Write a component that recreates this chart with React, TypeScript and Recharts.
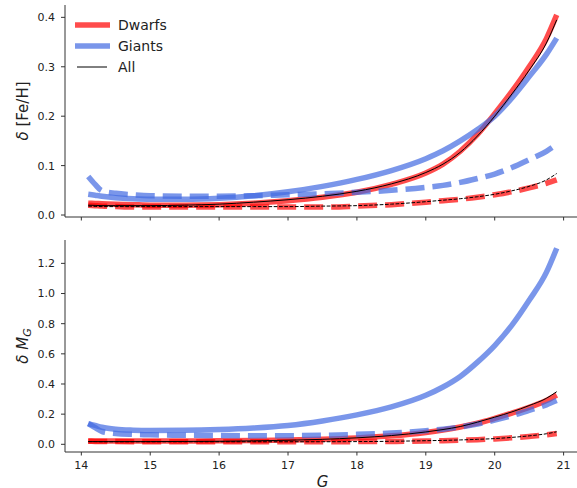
import React from 'react';
import { LineChart, Line, XAxis, YAxis, Legend } from 'recharts';

// Magnitude grid (G)
const G = [14.1, 14.2, 14.3, 14.5, 14.75, 15, 15.5, 16, 16.5, 17, 17.5, 18, 18.5, 19, 19.25, 19.5, 19.75, 20, 20.25, 20.5, 20.75, 20.9];

// Top panel: delta [Fe/H]
const dwarfsFeH = [0.024, 0.0235, 0.023, 0.022, 0.021, 0.02, 0.02, 0.021, 0.024, 0.029, 0.036, 0.046, 0.062, 0.085, 0.103, 0.129, 0.163, 0.205, 0.25, 0.3, 0.357, 0.405];
const dwarfsFeHDash = [0.02, 0.019, 0.018, 0.017, 0.016, 0.016, 0.016, 0.016, 0.016, 0.016, 0.016, 0.018, 0.021, 0.026, 0.029, 0.032, 0.036, 0.041, 0.047, 0.055, 0.064, 0.071];
const giantsFeH = [0.042, 0.04, 0.038, 0.035, 0.033, 0.032, 0.032, 0.034, 0.039, 0.047, 0.058, 0.072, 0.09, 0.114, 0.13, 0.15, 0.173, 0.2, 0.237, 0.28, 0.325, 0.358];
const giantsFeHDash = [0.078, 0.062, 0.049, 0.044, 0.041, 0.039, 0.038, 0.038, 0.039, 0.041, 0.043, 0.046, 0.05, 0.056, 0.06, 0.066, 0.074, 0.083, 0.096, 0.112, 0.129, 0.143];
const allFeH = [0.02, 0.0195, 0.019, 0.019, 0.019, 0.019, 0.02, 0.022, 0.026, 0.031, 0.038, 0.048, 0.063, 0.086, 0.103, 0.127, 0.16, 0.2, 0.245, 0.293, 0.348, 0.395];
const allFeHDash = [0.018, 0.0175, 0.017, 0.017, 0.017, 0.017, 0.017, 0.017, 0.017, 0.017, 0.018, 0.019, 0.022, 0.027, 0.03, 0.033, 0.037, 0.042, 0.049, 0.058, 0.071, 0.084];

// Bottom panel: delta M_G
const dwarfsMG = [0.022, 0.022, 0.022, 0.022, 0.022, 0.022, 0.022, 0.023, 0.025, 0.028, 0.033, 0.042, 0.056, 0.079, 0.095, 0.115, 0.14, 0.172, 0.207, 0.245, 0.29, 0.327];
const dwarfsMGDash = [0.02, 0.019, 0.018, 0.018, 0.017, 0.017, 0.017, 0.017, 0.017, 0.017, 0.017, 0.018, 0.019, 0.022, 0.024, 0.027, 0.031, 0.036, 0.043, 0.052, 0.063, 0.072];
const giantsMG = [0.137, 0.125, 0.113, 0.1, 0.094, 0.092, 0.093, 0.098, 0.108, 0.125, 0.155, 0.195, 0.248, 0.325, 0.38, 0.45, 0.545, 0.655, 0.79, 0.955, 1.14, 1.3];
const giantsMGDash = [0.137, 0.11, 0.085, 0.072, 0.066, 0.063, 0.06, 0.058, 0.057, 0.057, 0.06, 0.066, 0.075, 0.09, 0.1, 0.115, 0.135, 0.16, 0.19, 0.225, 0.262, 0.29];
const allMG = [0.018, 0.018, 0.018, 0.018, 0.018, 0.018, 0.019, 0.02, 0.023, 0.027, 0.033, 0.043, 0.058, 0.082, 0.098, 0.118, 0.147, 0.18, 0.215, 0.257, 0.305, 0.349];
const allMGDash = [0.018, 0.018, 0.017, 0.017, 0.017, 0.017, 0.017, 0.017, 0.017, 0.017, 0.017, 0.018, 0.02, 0.024, 0.026, 0.029, 0.033, 0.038, 0.046, 0.056, 0.07, 0.083];

// Ticks
const X_TICKS = [14, 15, 16, 17, 18, 19, 20, 21];
const FEH_TICKS = [0, 0.1, 0.2, 0.3, 0.4];
const MG_TICKS = [0, 0.2, 0.4, 0.6, 0.8, 1.0, 1.2];
const LEGEND_LABELS = ['Dwarfs', 'Giants', 'All'];

const X_DOMAIN: [number, number] = [13.763, 21.238];
const FEH_DOMAIN: [number, number] = [-0.004, 0.425];
const MG_DOMAIN: [number, number] = [-0.051, 1.355];

const FONT = '"DejaVu Sans", sans-serif';
const RED = '#ff0000';
const BLUE = '#4169e1';
const AXIS = '#333333';
const LW = 5.5;
const OP = 0.7;

const buildRows = (a: number[], b: number[], c: number[], d: number[], e: number[], f: number[]) =>
  G.map((g, i) => ({ g, dS: a[i], dD: b[i], gS: c[i], gD: d[i], aS: e[i], aD: f[i] }));

const topRows = buildRows(dwarfsFeH, dwarfsFeHDash, giantsFeH, giantsFeHDash, allFeH, allFeHDash);
const bottomRows = buildRows(dwarfsMG, dwarfsMGDash, giantsMG, giantsMGDash, allMG, allMGDash);

const renderLines = () => [
  <Line key="dS" dataKey="dS" type="monotone" stroke={RED} strokeOpacity={OP} strokeWidth={LW} dot={false} activeDot={false} isAnimationActive={false} />,
  <Line key="dD" dataKey="dD" type="monotone" stroke={RED} strokeOpacity={OP} strokeWidth={LW} strokeDasharray="19 8" dot={false} activeDot={false} isAnimationActive={false} />,
  <Line key="gS" dataKey="gS" type="monotone" stroke={BLUE} strokeOpacity={OP} strokeWidth={LW} dot={false} activeDot={false} isAnimationActive={false} />,
  <Line key="gD" dataKey="gD" type="monotone" stroke={BLUE} strokeOpacity={OP} strokeWidth={LW} strokeDasharray="19 8" dot={false} activeDot={false} isAnimationActive={false} />,
  <Line key="aS" dataKey="aS" type="monotone" stroke="#000" strokeWidth={1} dot={false} activeDot={false} isAnimationActive={false} />,
  <Line key="aD" dataKey="aD" type="monotone" stroke="#000" strokeWidth={1} strokeDasharray="3.7 1.6" dot={false} activeDot={false} isAnimationActive={false} />,
];

const tickStyle = { fill: '#222', fontSize: 11, fontFamily: FONT };

const renderLegend = () => (
  <svg width={130} height={66} style={{ display: 'block' }}>
    <line x1={5} x2={40} y1={13} y2={13} stroke={RED} strokeOpacity={OP} strokeWidth={LW} />
    <line x1={5} x2={40} y1={34} y2={34} stroke={BLUE} strokeOpacity={OP} strokeWidth={LW} />
    <line x1={7} x2={37} y1={55} y2={55} stroke="#000" strokeWidth={1} />
    <text x={48} y={18} fontSize={14} fontFamily={FONT} fill="#222">{LEGEND_LABELS[0]}</text>
    <text x={48} y={39} fontSize={14} fontFamily={FONT} fill="#222">{LEGEND_LABELS[1]}</text>
    <text x={48} y={60} fontSize={14} fontFamily={FONT} fill="#222">{LEGEND_LABELS[2]}</text>
  </svg>
);

const topYLabel = () => (
  <text transform="translate(28,111) rotate(-90)" textAnchor="middle" fontSize={15} fontFamily={FONT} fill="#222">
    <tspan fontStyle="italic">δ</tspan>
    <tspan> [Fe/H]</tspan>
  </text>
);

const bottomYLabel = () => (
  <text transform="translate(28,111) rotate(-90)" textAnchor="middle" fontSize={15} fontFamily={FONT} fill="#222">
    <tspan fontStyle="italic">δ M</tspan>
    <tspan fontStyle="italic" fontSize={11} dy={3}>G</tspan>
  </text>
);

const xLabel = () => (
  <text x={322.5} y={251.5} textAnchor="middle" fontSize={15} fontStyle="italic" fontFamily={FONT} fill="#222">
    G
  </text>
);

const fmt = (v: number) => v.toFixed(1);

export default function App() {
  return (
    <div style={{ position: 'absolute', left: 0, top: 0, width: 577, height: 488, overflow: 'hidden', background: '#fff' }}>
      <div style={{ position: 'absolute', left: 0, top: 0 }}>
        <LineChart width={600} height={230} data={topRows} margin={{ top: 5, right: 20, bottom: 0, left: 15 }}>
          <XAxis
            dataKey="g"
            type="number"
            domain={X_DOMAIN}
            allowDataOverflow
            ticks={X_TICKS}
            interval={0}
            height={13}
            tickSize={3.5}
            tickFormatter={() => ''}
            axisLine={{ stroke: AXIS, strokeWidth: 1 }}
            tickLine={{ stroke: AXIS }}
            tick={tickStyle}
          />
          <XAxis
            xAxisId="top"
            orientation="top"
            type="number"
            domain={X_DOMAIN}
            allowDataOverflow
            height={0}
            tick={false}
            tickLine={false}
            axisLine={{ stroke: AXIS, strokeWidth: 1 }}
          />
          <YAxis
            type="number"
            domain={FEH_DOMAIN}
            allowDataOverflow
            ticks={FEH_TICKS}
            interval={0}
            width={50}
            tickSize={4}
            tickMargin={6}
            tickFormatter={fmt}
            axisLine={{ stroke: AXIS, strokeWidth: 1 }}
            tickLine={{ stroke: AXIS }}
            tick={tickStyle}
            label={topYLabel}
          />
          <Legend
            content={renderLegend}
            layout="vertical"
            align="center"
            verticalAlign="middle"
            wrapperStyle={{ position: 'absolute', left: 70, top: 12, width: 130, height: 66 }}
          />
          {renderLines()}
        </LineChart>
      </div>
      <div style={{ position: 'absolute', left: 0, top: 235 }}>
        <LineChart width={600} height={253} data={bottomRows} margin={{ top: 5, right: 20, bottom: 0, left: 15 }}>
          <XAxis
            dataKey="g"
            type="number"
            domain={X_DOMAIN}
            allowDataOverflow
            ticks={X_TICKS}
            interval={0}
            height={36}
            tickSize={3.5}
            tickMargin={6}
            tickFormatter={(v: number) => String(v)}
            axisLine={{ stroke: AXIS, strokeWidth: 1 }}
            tickLine={{ stroke: AXIS }}
            tick={tickStyle}
            label={xLabel}
          />
          <XAxis
            xAxisId="top"
            orientation="top"
            type="number"
            domain={X_DOMAIN}
            allowDataOverflow
            height={0}
            tick={false}
            tickLine={false}
            axisLine={{ stroke: AXIS, strokeWidth: 1 }}
          />
          <YAxis
            type="number"
            domain={MG_DOMAIN}
            allowDataOverflow
            ticks={MG_TICKS}
            interval={0}
            width={50}
            tickSize={4}
            tickMargin={6}
            tickFormatter={fmt}
            axisLine={{ stroke: AXIS, strokeWidth: 1 }}
            tickLine={{ stroke: AXIS }}
            tick={tickStyle}
            label={bottomYLabel}
          />
          {renderLines()}
        </LineChart>
      </div>
    </div>
  );
}
